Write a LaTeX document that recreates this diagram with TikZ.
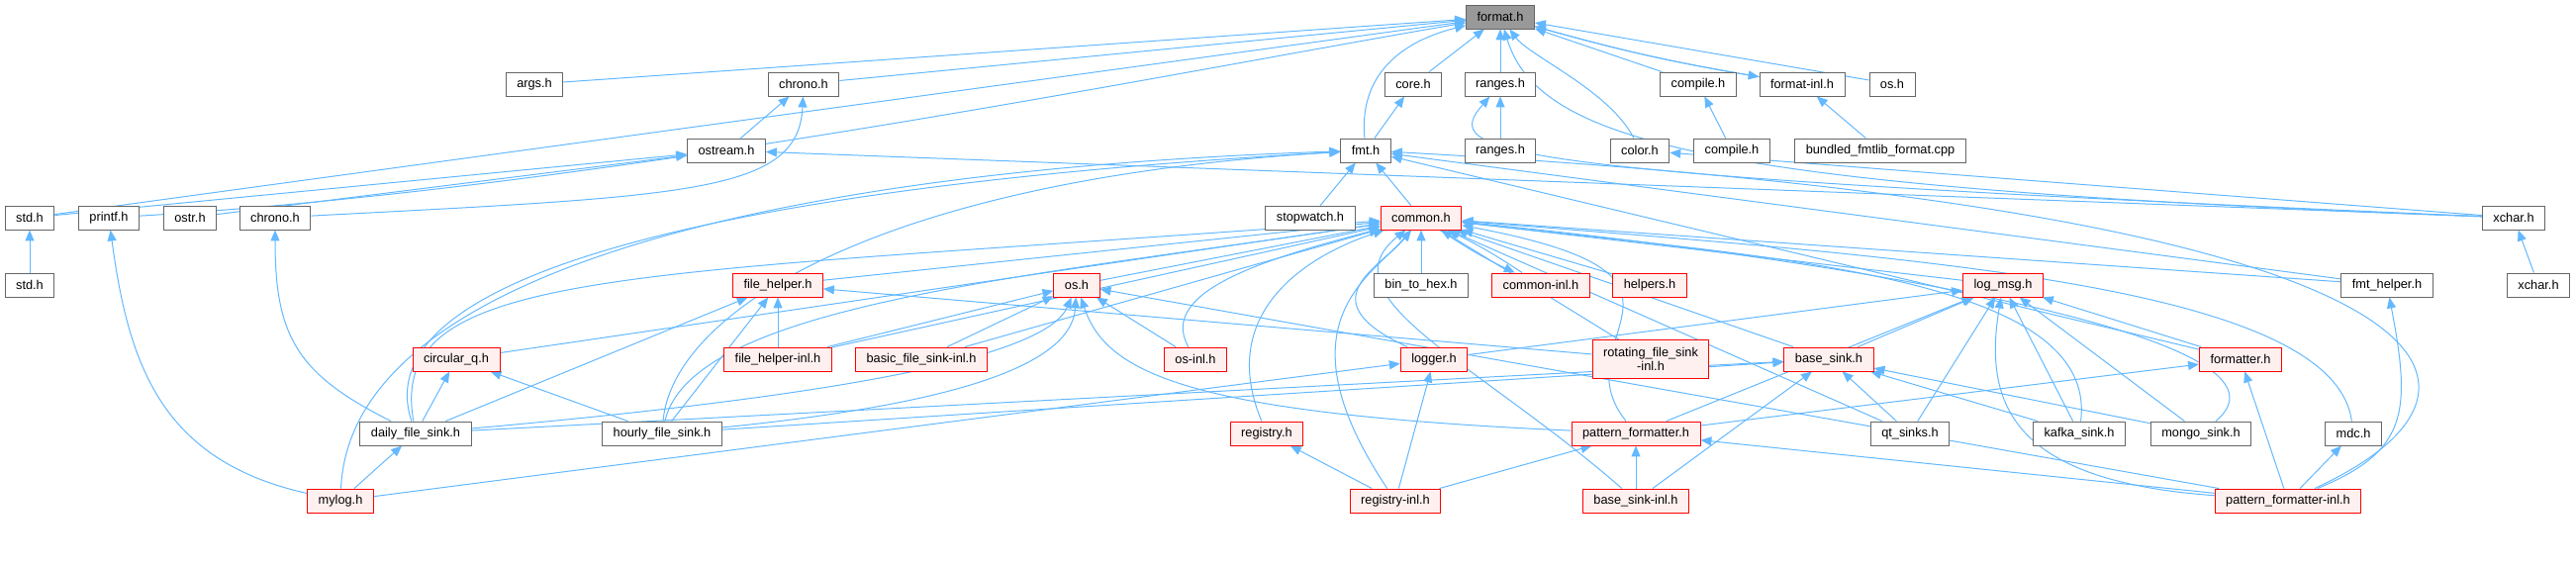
\documentclass[tikz,border=0pt]{standalone}
\usepackage{fontspec}
\setmainfont{Liberation Sans}
\usetikzlibrary{arrows.meta,backgrounds}
\definecolor{edgeblue}{HTML}{63B8FF}
\definecolor{boxgray}{HTML}{666666}
\definecolor{focusfill}{HTML}{999999}
\definecolor{truncfill}{HTML}{FFF0F0}

\begin{document}
\begin{tikzpicture}[x=0.3mm, y=0.3mm, font=\fontsize{10.9}{12.5}\selectfont,
  hdr/.style={draw=boxgray, fill=white, line width=0.27mm, inner xsep=3.3mm, inner ysep=0pt, minimum height=7.2mm},
  trunc/.style={hdr, draw=red, fill=truncfill},
  focus/.style={hdr, fill=focusfill},
  inc/.style={draw=edgeblue, line width=0.3mm, {Triangle[length=3.3mm, width=2.7mm]}-},
  dep/.style={draw=edgeblue, line width=0.3mm, -{Triangle[length=3.3mm, width=2.7mm]}}]

  \useasboundingbox (0,0) rectangle (2603,-576);

  % bundled fmt headers
  \node[focus] (format) at (1516,-17) {format.h};
  \node[hdr] (args) at (540,-85) {args.h};
  \node[hdr] (chronoF) at (812,-85) {chrono.h};
  \node[hdr] (core) at (1428,-85) {core.h};
  \node[hdr] (rangesF) at (1516,-85) {ranges.h};
  \node[hdr] (compileF) at (1716,-85) {compile.h};
  \node[hdr] (formatinl) at (1821,-85) {format-inl.h};
  \node[hdr] (osF) at (1912,-85) {os.h};
  \node[hdr] (ostream) at (734,-152) {ostream.h};
  \node[hdr] (fmt) at (1380,-152) {fmt.h};
  \node[hdr] (rangesW) at (1516,-152) {ranges.h};
  \node[hdr] (color) at (1657,-152) {color.h};
  \node[hdr] (compileW) at (1750,-152) {compile.h};
  \node[hdr] (bundled) at (1900,-152) {bundled\_fmtlib\_format.cpp};
  \node[hdr] (stdF) at (30,-220) {std.h};
  \node[hdr] (printf) at (110,-220) {printf.h};
  \node[hdr] (ostr) at (192,-220) {ostr.h};
  \node[hdr] (chronoW) at (278,-220) {chrono.h};
  \node[hdr] (stopwatch) at (1324,-220) {stopwatch.h};
  \node[trunc] (common) at (1436,-220) {common.h};
  \node[hdr] (xcharF) at (2540,-220) {xchar.h};
  \node[hdr] (stdW) at (30,-288) {std.h};
  \node[hdr] (xcharW) at (2565,-288) {xchar.h};

  % spdlog headers
  \node[trunc] (filehelper) at (786,-288) {file\_helper.h};
  \node[trunc] (osD) at (1088,-288) {os.h};
  \node[hdr] (bin2hex) at (1436,-288) {bin\_to\_hex.h};
  \node[trunc] (commoninl) at (1557,-288) {common-inl.h};
  \node[trunc] (helpers) at (1667,-288) {helpers.h};
  \node[trunc] (logmsg) at (2024,-288) {log\_msg.h};
  \node[hdr] (fmthelper) at (2412,-288) {fmt\_helper.h};
  \node[trunc] (circq) at (461,-363) {circular\_q.h};
  \node[trunc] (filehelperinl) at (786,-363) {file\_helper-inl.h};
  \node[trunc] (basicinl) at (931,-363) {basic\_file\_sink-inl.h};
  \node[trunc] (osinl) at (1208,-363) {os-inl.h};
  \node[trunc] (logger) at (1449,-363) {logger.h};
  \node[trunc, align=center, minimum height=11.7mm] (rotinl) at (1668,-363) {rotating\_file\_sink\\-inl.h};
  \node[trunc] (basesink) at (1848,-363) {base\_sink.h};
  \node[trunc] (formatter) at (2264,-363) {formatter.h};
  \node[hdr] (daily) at (420,-438) {daily\_file\_sink.h};
  \node[hdr] (hourly) at (669,-438) {hourly\_file\_sink.h};
  \node[trunc] (registry) at (1280,-438) {registry.h};
  \node[trunc] (patfmt) at (1653,-438) {pattern\_formatter.h};
  \node[hdr] (qt) at (1930,-438) {qt\_sinks.h};
  \node[hdr] (kafka) at (2101,-438) {kafka\_sink.h};
  \node[hdr] (mongo) at (2224,-438) {mongo\_sink.h};
  \node[hdr] (mdc) at (2378,-438) {mdc.h};
  \node[trunc] (mylog) at (344,-506) {mylog.h};
  \node[trunc] (reginl) at (1410,-506) {registry-inl.h};
  \node[trunc] (basesinkinl) at (1653,-506) {base\_sink-inl.h};
  \node[trunc] (patfmtinl) at (2312,-506) {pattern\_formatter-inl.h};

  \begin{scope}[on background layer]
    % straight includes, parent first
    \path (format) edge[inc] (args) edge[inc] (chronoF) edge[inc] (core) edge[inc] (rangesF)
      edge[inc] (compileF) edge[inc, bend right=3] (formatinl) edge[inc] (osF) edge[inc] (stdF);
    \draw[dep, bend right=3] (format) to (formatinl);
    \path (chronoF) edge[inc] (ostream);
    \path (core) edge[inc] (fmt);
    \path (rangesF) edge[inc] (rangesW);
    \path (compileF) edge[inc] (compileW);
    \path (formatinl) edge[inc] (bundled);
    \path (ostream) edge[inc] (stdF) edge[inc] (ostr) edge[inc] (xcharF);
    \path (color) edge[inc] (xcharF);
    \path (stdF) edge[inc] (stdW);
    \path (xcharF) edge[inc] (xcharW);
    \path (fmt) edge[inc] (common) edge[inc] (stopwatch) edge[inc] (fmthelper) edge[inc] (formatter);
    \path (common) edge[inc] (bin2hex) edge[inc] (helpers) edge[inc] (filehelper) edge[inc] (osD)
      edge[inc] (circq) edge[inc] (basicinl) edge[inc] (filehelperinl) edge[inc] (rotinl)
      edge[inc] (logmsg) edge[inc] (basesink) edge[inc] (qt) edge[inc] (fmthelper)
      edge[inc, bend left=4] (commoninl);
    \draw[dep, bend right=4] (common) to (commoninl);
    \path (filehelper) edge[inc] (daily) edge[inc] (hourly) edge[inc] (filehelperinl) edge[inc] (rotinl);
    \path (osD) edge[inc] (filehelperinl) edge[inc] (basicinl) edge[inc] (osinl) edge[inc] (patfmtinl);
    \path (circq) edge[inc] (daily) edge[inc] (hourly);
    \path (daily) edge[inc] (mylog);
    \path (logger) edge[inc] (mylog) edge[inc] (reginl);
    \path (registry) edge[inc] (reginl);
    \path (patfmt) edge[inc] (reginl) edge[inc] (basesinkinl) edge[inc] (patfmtinl);
    \path (basesink) edge[inc] (daily) edge[inc] (hourly) edge[inc] (basesinkinl)
      edge[inc] (qt) edge[inc] (kafka) edge[inc] (mongo);
    \path (logmsg) edge[inc] (logger) edge[inc] (patfmt) edge[inc] (basesink) edge[inc] (qt)
      edge[inc] (kafka) edge[inc] (mongo) edge[inc] (formatter);
    \path (formatter) edge[inc] (patfmt) edge[inc] (patfmtinl);
    \path (mdc) edge[inc] (patfmtinl);

    % curved includes
    \draw[dep] (chronoW) .. controls +(420,22) and +(-5,-110) .. (chronoF);
    \draw[dep] (daily) .. controls +(-120,60) and +(0,-120) .. (chronoW);
    \draw[dep] (mylog) .. controls +(-180,40) and +(20,-150) .. (printf);
    \draw[dep] (printf) .. controls +(500,30) and +(-350,-60) .. (format);
    \draw[dep] (fmt) .. controls +(-8,90) and +(-80,-20) .. (format);
    \draw[dep] (color) .. controls +(-30,60) and +(30,-40) .. (format);
    \draw[dep] (xcharF) .. controls +(-800,30) and +(40,-130) .. (format);
    \draw[dep] (xcharF) .. controls +(-1050,45) and +(-60,-70) .. (rangesF);
    \draw[dep] (mylog) .. controls +(10,230) and +(-600,-20) .. (fmt);
    \draw[dep] (daily) .. controls +(-50,150) and +(-700,-40) .. (fmt);
    \draw[dep] (daily) .. controls +(-30,170) and +(-800,-60) .. (common);
    \draw[dep] (hourly) .. controls +(10,120) and +(-500,-30) .. (fmt);
    \draw[dep] (hourly) .. controls +(30,130) and +(-400,-60) .. (common);
    \draw[dep] (reginl) .. controls +(-120,180) and +(-50,-60) .. (common);
    \draw[dep] (logger) .. controls +(-130,60) and +(-40,-50) .. (common);
    \draw[dep] (basesinkinl) .. controls +(-160,140) and +(-100,-80) .. (common);
    \draw[dep] (patfmt) .. controls +(-80,100) and +(320,-60) .. (common);
    \draw[dep] (registry) .. controls +(-50,120) and +(-120,-40) .. (common);
    \draw[dep] (osinl) .. controls +(-40,70) and +(-150,-40) .. (common);
    \draw[dep] (kafka) .. controls +(20,160) and +(350,-40) .. (common);
    \draw[dep] (mongo) .. controls +(120,100) and +(400,-40) .. (common);
    \draw[dep] (mdc) .. controls +(-20,150) and +(500,-40) .. (common);
    \draw[dep] (patfmtinl) .. controls +(120,50) and +(25,-130) .. (fmthelper);
    \draw[dep] (patfmtinl) .. controls +(260,120) and +(1100,-60) .. (fmt);
    \draw[dep] (daily) .. controls +(450,40) and +(-30,-70) .. (osD);
    \draw[dep] (hourly) .. controls +(300,30) and +(-5,-80) .. (osD);
    \draw[dep] (patfmt) .. controls +(-450,20) and +(30,-90) .. (osD);
    \draw[dep] (patfmtinl) .. controls +(-280,20) and +(-20,-120) .. (logmsg);
  \end{scope}

\end{tikzpicture}
\end{document}
